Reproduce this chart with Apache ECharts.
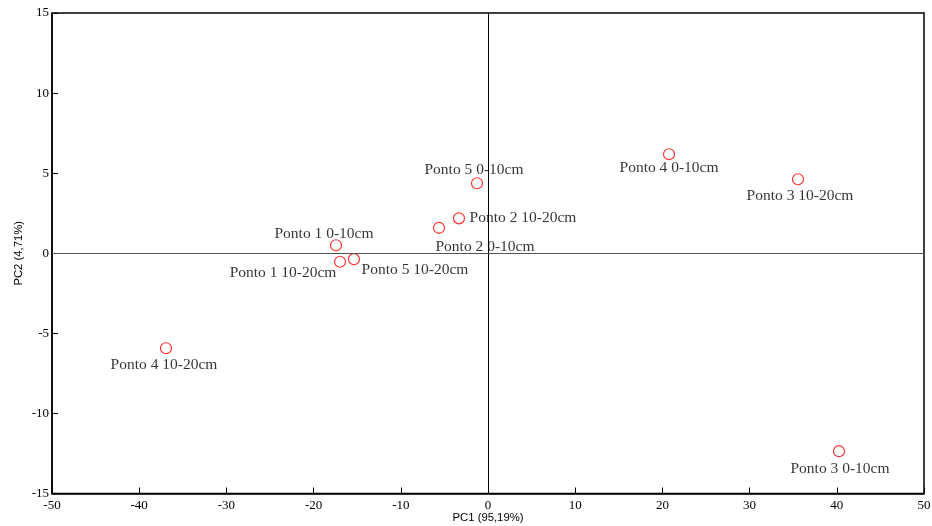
<!DOCTYPE html>
<html><head><meta charset="utf-8">
<script src="https://cdn.jsdelivr.net/npm/echarts@6/dist/echarts.min.js"></script>
<style>html,body{margin:0;padding:0;background:#fff}#c{width:932px;height:526px}</style>
</head><body><div id="c"></div>
<script>
var names = ["Ponto 3 0-10cm","Ponto 4 10-20cm","Ponto 4 0-10cm","Ponto 3 10-20cm","Ponto 5 0-10cm","Ponto 2 10-20cm","Ponto 2 0-10cm","Ponto 1 0-10cm","Ponto 1 10-20cm","Ponto 5 10-20cm"];
var pc1 = [40.25,-36.93,20.76,35.55,-1.26,-3.33,-5.62,-17.43,-16.97,-15.37];
var pc2 = [-12.36,-5.93,6.18,4.62,4.37,2.18,1.59,0.50,-0.53,-0.37];
var labelOffsets = [[1,18],[-2,17],[0,14],[2,17],[-3,-13],[64,0],[46,19],[-12,-11],[-57,11],[61,11]];
var xTicks = {min:-50,max:50,interval:10};
var yTicks = {min:-15,max:15,interval:5};

var data = names.map(function(n,i){
  return {name:n, value:[pc1[i],pc2[i]], label:{offset:labelOffsets[i]}};
});
var chart = echarts.init(document.getElementById('c'));
chart.setOption({
  animation:false,
  grid:{left:52,right:8,top:13,bottom:32.5,outerBoundsMode:'none',containLabel:false,show:true,borderColor:'#000',borderWidth:1.5,backgroundColor:'transparent'},
  xAxis:{type:'value',min:xTicks.min,max:xTicks.max,interval:xTicks.interval,
    name:'PC1 (95,19%)',nameLocation:'middle',nameGap:19,nameMoveOverlap:false,
    nameTextStyle:{fontFamily:'Liberation Sans',fontSize:11.3,color:'#000'},
    axisLine:{show:true,onZero:false,lineStyle:{color:'#000',width:1.5}},
    axisTick:{show:true,inside:true,length:6,lineStyle:{color:'#000',width:1}},
    axisLabel:{fontFamily:'Liberation Serif',fontSize:13,color:'#000',margin:5.5},
    splitLine:{show:false}},
  yAxis:{type:'value',min:yTicks.min,max:yTicks.max,interval:yTicks.interval,
    name:'PC2 (4,71%)',nameLocation:'middle',nameGap:28,nameMoveOverlap:false,
    nameTextStyle:{fontFamily:'Liberation Sans',fontSize:11.3,color:'#000'},
    axisLine:{show:true,onZero:false,lineStyle:{color:'#000',width:1.5}},
    axisTick:{show:true,inside:true,length:6,lineStyle:{color:'#000',width:1}},
    axisLabel:{fontFamily:'Liberation Serif',fontSize:13,color:'#000',margin:3},
    splitLine:{show:false}},
  series:[{
    type:'scatter',
    symbol:'circle',symbolSize:11,
    itemStyle:{color:'#fff',borderColor:'#ff0000',borderWidth:1.2},
    label:{show:true,position:'inside',formatter:'{b}',fontFamily:'Liberation Serif',fontSize:15.5,color:'#000'},
    data:data,
    markLine:{silent:true,symbol:'none',label:{show:false},
      lineStyle:{type:'solid',width:1},
      data:[{xAxis:0,lineStyle:{color:'#000'}},{yAxis:0,lineStyle:{color:'#555',width:1.2}}]},
    z:3
  }]
});
</script></body></html>
